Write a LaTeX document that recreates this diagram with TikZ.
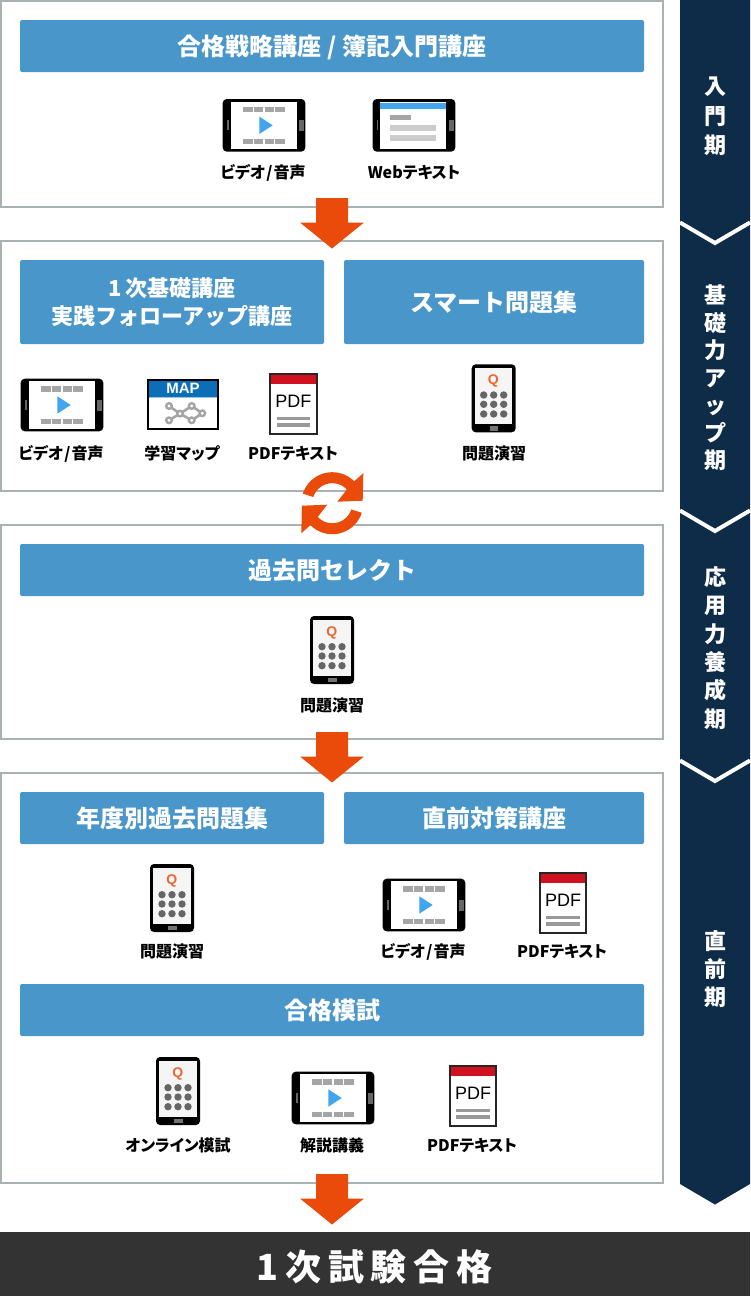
\documentclass[tikz,border=0pt]{standalone}
\usepackage{fontspec}
\setmainfont{Noto Sans CJK JP}
\newfontfamily\labelfont[RawFeature=+palt]{Noto Sans CJK JP}
\newfontfamily\iconfont{Liberation Sans}
\newfontfamily\goalfont[LetterSpace=19]{Noto Sans CJK JP}
\definecolor{barblue}{HTML}{4896CA}
\definecolor{framegray}{HTML}{AAB2B6}
\definecolor{arroworange}{HTML}{EB4B0A}
\definecolor{sidenavy}{HTML}{0E2C47}
\definecolor{goalgray}{HTML}{333333}
\definecolor{playblue}{HTML}{42A5EF}
\definecolor{filmgray}{HTML}{A5A5A5}
\definecolor{mapblue}{HTML}{0B6FB8}
\definecolor{pdfred}{HTML}{CF1120}
\tikzset{
  frame/.style={draw=framegray, line width=2pt, fill=white},
  barbase/.style={fill=barblue, text=white, inner sep=0pt, minimum height=52pt, rounded corners=2pt, align=center},
  titlebar/.style={barbase, text height=20.5pt, text depth=1.5pt, font=\bfseries\fontsize{24}{28}\selectfont},
  smalltitle/.style={barbase, font=\bfseries\fontsize{22}{28}\selectfont},
  iconlabel/.style={inner sep=0pt, text height=14.5pt, text depth=1.5pt, font=\labelfont\bfseries\fontsize{16}{20}\selectfont},
  sidelabel/.style={text=white, inner sep=0pt, align=center, font=\bfseries\fontsize{22}{#1}\selectfont},
  chevron/.style={draw=white, line width=4pt, miter limit=10},
  pics/downarrow/.style={code={
    \fill[arroworange] (-16,0) -- (16,0) -- (16,24.5) -- (32,24.5) -- (0,50.5) -- (-32,24.5) -- (-16,24.5) -- cycle;
  }},
  pics/halfcycle/.style={code={
    \fill[arroworange] plot[domain=162:45,samples=24] ({31*cos(\x)},{-31*sin(\x)})
      -- (31,-30) -- (30.4,-2.5) -- (5,-1.5) -- (14.2,-13.2)
      -- plot[domain=45:162,samples=24] ({20*cos(\x)},{-20*sin(\x)}) -- cycle;
  }},
  pics/videoicon/.style={code={
    \fill[black, rounded corners=4pt] (-41.3,-26.3) rectangle (41.3,26.3);
    \fill[white] (-33,-23.6) rectangle (33,23.6);
    \fill[black!60] (-37,-5) rectangle (-35.2,5);
    \fill[black!60] (35.3,-5.5) rectangle (39.7,5.5);
    \foreach \i in {0,1,2,3} {
      \fill[filmgray] (-21+\i*10.75,-18.6) rectangle ++(9.5,5.2);
      \fill[filmgray] (-21+\i*10.75,13.7) rectangle ++(9.5,5.2);
    }
    \fill[playblue] (-4.7,-8.7) -- (8.7,0) -- (-4.7,8.7) -- cycle;
  }},
  pics/webicon/.style={code={
    \fill[black, rounded corners=4pt] (-41.3,-26.3) rectangle (41.3,26.3);
    \fill[white] (-33.7,-23.6) rectangle (32.3,23.6);
    \fill[playblue] (-33.7,-22) rectangle (32.3,-16.6);
    \fill[black!60] (-37.5,-5) rectangle (-35.7,5);
    \fill[black!60] (35.3,-5.5) rectangle (39.7,5.5);
    \fill[filmgray] (-23.7,-10.3) rectangle (-2.7,-5);
    \fill[black!20] (-23.7,-0.3) rectangle (22.3,5.4);
    \fill[black!20] (-23.7,9.4) rectangle (22.3,15.4);
  }},
  pics/mapicon/.style={code={
    \fill[white] (-35,-24.5) rectangle (35,24.5);
    \fill[mapblue] (-35,-24.5) rectangle (35,-7.5);
    \draw[mapblue!40, line width=1pt] (-35,-7) -- (35,-7);
    \draw[black, line width=2.4pt] (-35,-24.5) rectangle (35,24.5);
    \node[text=white, inner sep=0pt, font=\iconfont\bfseries\fontsize{15}{15}\selectfont] (title) at (0,-15.5) {MAP};
    \coordinate (hub) at (-3,9.3);
    \coordinate (leaf1) at (-14,1.7);
    \coordinate (leaf2) at (-14,16);
    \coordinate (leaf3) at (8.7,1.7);
    \coordinate (leaf4) at (8.7,16);
    \coordinate (leaf5) at (19.3,9);
    \draw[filmgray, line width=2.6pt] (leaf1) -- (hub) -- (leaf2) (leaf3) -- (hub) -- (leaf4) (leaf3) -- (leaf5) -- (leaf4);
    \foreach \p in {hub,leaf1,leaf2,leaf3,leaf4,leaf5}
      \draw[filmgray, line width=2.4pt, fill=white] (\p) circle (2.8pt);
  }},
  pics/pdficon/.style={code={
    \fill[white] (-23.2,-30) rectangle (23.2,30);
    \fill[pdfred] (-23.2,-30) rectangle (23.2,-20);
    \draw[black!85, line width=2pt] (-23.2,-30) rectangle (23.2,30);
    \node[inner sep=0pt, font=\iconfont\fontsize{18}{18}\selectfont] (title) at (0,-2.5) {PDF};
    \fill[black!40] (-16.6,12.7) rectangle (16.7,16);
    \fill[black!40] (-16.6,19.3) rectangle (16.7,22.7);
  }},
  pics/qicon/.style={code={
    \fill[black, rounded corners=4pt] (-22,-34) rectangle (22,34);
    \fill[white!96!black] (-18.7,-30) rectangle (18.6,26);
    \node[text=arroworange!85!white, inner sep=0pt, font=\iconfont\bfseries\fontsize{14}{14}\selectfont] (title) at (-0.3,-17.3) {Q};
    \foreach \r in {-3.3,6,15.7}
      \foreach \c in {-10,0,10}
        \fill[black!60] (\c,\r) circle (3.7pt);
    \fill[black!55] (-4,27.7) rectangle (4.6,32.4);
  }},
}
\begin{document}
\begin{tikzpicture}[x=1pt, y=-1pt]
  \useasboundingbox (0,0) rectangle (750,1296);

  % Side band
  \fill[sidenavy] (680,0) -- (750,0) -- (750,1184) -- (715,1204.5) -- (680,1184) -- cycle;
  \draw[chevron] (680,222.5) -- (715,243) -- (750,222.5);
  \draw[chevron] (680,510.5) -- (715,531) -- (750,510.5);
  \draw[chevron] (680,760.5) -- (715,781) -- (750,760.5);
  \node[sidelabel=29.5] (phaseintro) at (715,116.5) {入\\門\\期};
  \node[sidelabel=27.5] (phasebasic) at (715,378) {基\\礎\\力\\ア\\ッ\\プ\\期};
  \node[sidelabel=28.4] (phaseapply) at (715,648) {応\\用\\力\\養\\成\\期};
  \node[sidelabel=28] (phaselast) at (715,969) {直\\前\\期};

  % Frames
  \draw[frame] (1,1) rectangle (663,207);
  \draw[frame] (1,241) rectangle (663,491);
  \draw[frame] (1,525) rectangle (663,739);
  \draw[frame] (1,773) rectangle (663,1183);

  % Introduction
  \node[titlebar, minimum width=624pt] (intro) at (332,46) {合格戦略講座 / 簿記入門講座};
  \pic (introvideo) at (264,125.3) {videoicon};
  \pic (introweb) at (414,125.3) {webicon};
  \node[iconlabel] (introvideolabel) at (263,172) {ビデオ{\kern1pt}/{\kern1pt}音声};
  \node[iconlabel] (introweblabel) at (414,172) {Webテキスト};

  % Basics
  \node[smalltitle, minimum width=304pt, minimum height=84pt] (basic) at (172,302) {1{\kern4pt}次基礎講座\\実践フォローアップ講座};
  \node[titlebar, minimum width=300pt, minimum height=84pt] (smart) at (494,302) {スマート問題集};
  \pic (basicvideo) at (62,405) {videoicon};
  \pic (basicmap) at (183,404.3) {mapicon};
  \pic (basicpdf) at (293.3,404) {pdficon};
  \pic (basicq) at (493.7,398.3) {qicon};
  \node[iconlabel] (basicvideolabel) at (61,453) {ビデオ{\kern1pt}/{\kern1pt}音声};
  \node[iconlabel] (basicmaplabel) at (182,453) {学習マップ};
  \node[iconlabel] (basicpdflabel) at (293,453) {PDFテキスト};
  \node[iconlabel] (basicqlabel) at (494,453) {問題演習};

  % Past questions
  \node[titlebar, minimum width=624pt] (past) at (332,570) {過去問セレクト};
  \pic (pastq) at (332,650) {qicon};
  \node[iconlabel] (pastqlabel) at (332,705) {問題演習};

  % Last stage
  \node[titlebar, minimum width=304pt] (yearly) at (172,818) {年度別過去問題集};
  \node[titlebar, minimum width=300pt] (final) at (494,818) {直前対策講座};
  \pic (yearlyq) at (172,898) {qicon};
  \pic (finalvideo) at (424,905) {videoicon};
  \pic (finalpdf) at (563,903) {pdficon};
  \node[iconlabel] (yearlyqlabel) at (172,951) {問題演習};
  \node[iconlabel] (finalvideolabel) at (423,951) {ビデオ{\kern1pt}/{\kern1pt}音声};
  \node[iconlabel] (finalpdflabel) at (562,951) {PDFテキスト};

  % Mock exam
  \node[titlebar, minimum width=624pt] (mock) at (332,1010) {合格模試};
  \pic (mockq) at (178,1091) {qicon};
  \pic (mockvideo) at (333,1098) {videoicon};
  \pic (mockpdf) at (473,1096) {pdficon};
  \node[iconlabel] (mockqlabel) at (178,1145) {オンライン模試};
  \node[iconlabel] (mockvideolabel) at (332,1145) {解説講義};
  \node[iconlabel] (mockpdflabel) at (472,1145) {PDFテキスト};

  % Arrows between the frames
  \pic (arrowa) at (332,198) {downarrow};
  \pic (arrowb) at (332,732) {downarrow};
  \pic (arrowc) at (332,1174) {downarrow};
  \pic (cyclea) at (332.3,503.2) {halfcycle};
  \pic[rotate=180] (cycleb) at (332.3,503.2) {halfcycle};

  % Goal
  \node[fill=goalgray, minimum width=750pt, minimum height=64pt, inner sep=0pt] (goalbar) at (375,1264) {};
  \node[text=white, inner sep=0pt, font=\goalfont\bfseries\fontsize{36}{36}\selectfont] (goal) at (374.5,1267) {1次試験合格};
\end{tikzpicture}
\end{document}
